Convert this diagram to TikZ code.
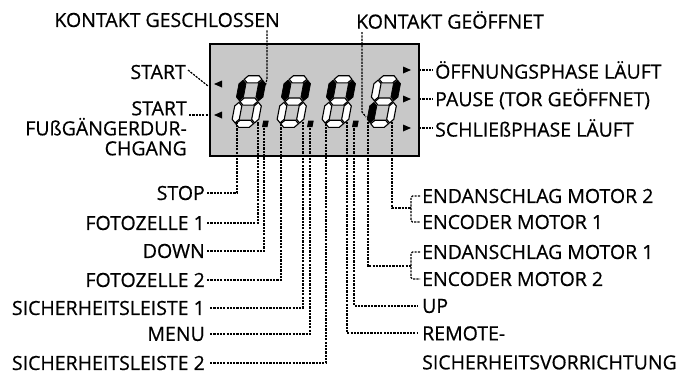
\documentclass[tikz,border=0pt]{standalone}
\usepackage{fontspec}
\setmainfont{Open Sans}[BoldFont={Open Sans},BoldFeatures={FakeBold=0.6}]
\definecolor{lcd}{RGB}{200,200,200}
\newcommand\lcddigit[9]{%
\begin{scope}[shift={(#1,#2)},xslant=0.19]
\path[#3] (4.15,-47.75) -- (7.7,-51.3) -- (18.3,-51.3) -- (21.85,-47.75) -- (18.3,-44.2) -- (7.7,-44.2) -- cycle;
\path[#4] (22.75,-26.4) -- (26.3,-29.95) -- (26.3,-43.3) -- (22.75,-46.85) -- (19.2,-43.3) -- (19.2,-29.95) -- cycle;
\path[#5] (22.75,-4.15) -- (26.3,-7.7) -- (26.3,-21.05) -- (22.75,-24.6) -- (19.2,-21.05) -- (19.2,-7.7) -- cycle;
\path[#6] (4.15,-3.25) -- (7.7,-6.8) -- (18.3,-6.8) -- (21.85,-3.25) -- (18.3,0.3) -- (7.7,0.3) -- cycle;
\path[#7] (3.25,-4.15) -- (6.8,-7.7) -- (6.8,-21.05) -- (3.25,-24.6) -- (-0.3,-21.05) -- (-0.3,-7.7) -- cycle;
\path[#8] (3.25,-26.4) -- (6.8,-29.95) -- (6.8,-43.3) -- (3.25,-46.85) -- (-0.3,-43.3) -- (-0.3,-29.95) -- cycle;
\path[#9] (4.15,-25.5) -- (7.7,-29.05) -- (18.3,-29.05) -- (21.85,-25.5) -- (18.3,-21.95) -- (7.7,-21.95) -- cycle;
\end{scope}}
\newcommand\lcddp[2]{%
\begin{scope}[shift={(#1,#2)},xslant=0.19]
\fill (31,0) rectangle (36.5,-6.5);
\end{scope}}
\begin{document}
\begin{tikzpicture}[x=1pt,y=-1pt,
  lbl/.style={font=\fontsize{19.5}{20}\selectfont\bfseries, inner sep=0pt},
  con/.style={line width=1.2pt, dash pattern=on 2.2pt off 1.1pt},
  segon/.style={fill=black, draw=black, line width=0.7pt},
  segoff/.style={fill=white, draw=black, line width=1.1pt},
  tri/.style={fill=black}]
\useasboundingbox (0,0) rectangle (689,376);
% display
\node[draw, line width=2pt, fill=lcd, minimum width=209pt, minimum height=112pt,
      inner sep=0pt, anchor=north west] (box) at (209,43) {};
\lcddigit{231}{127}{segoff}{segon}{segoff}{segoff}{segoff}{segon}{segoff}
\lcddigit{276}{127}{segoff}{segon}{segoff}{segoff}{segoff}{segon}{segoff}
\lcddigit{321}{127}{segoff}{segon}{segoff}{segoff}{segoff}{segon}{segoff}
\lcddigit{366}{127}{segoff}{segon}{segoff}{segoff}{segon}{segoff}{segoff}
\lcddp{231}{127}
\lcddp{276}{127}
\lcddp{321}{127}
% indicator arrows
\fill[tri] (222,80.5) -- (214,84) -- (222,87.5) -- cycle;
\fill[tri] (222,111.5) -- (214,115) -- (222,118.5) -- cycle;
\fill[tri] (403,66.5) -- (411,70) -- (403,73.5) -- cycle;
\fill[tri] (403,95.5) -- (411,99) -- (403,102.5) -- cycle;
\fill[tri] (403,124.5) -- (411,128) -- (403,131.5) -- cycle;
% top labels
\node[lbl, anchor=east] (kg) at (280,20) {KONTAKT GESCHLOSSEN};
\node[lbl, anchor=west] (kgo) at (356,20) {KONTAKT GEÖFFNET};
\coordinate (kgL) at (267,79);
\coordinate (kgA) at (265.5,85);
\coordinate (kgoL) at (362,112);
\coordinate (kgoA) at (366,117);
\draw[con] ([yshift=-3pt]kg.south -| kgL) -- (kgL) -- (kgA);
\draw[con] ([yshift=-3pt]kgo.south -| kgoL) -- (kgoL) -- (kgoA);
% left top labels
\node[lbl, anchor=east] (st1) at (186,72) {START};
\node[lbl, anchor=north east, align=right] (st2) at (187,101) {START\\FUßGÄNGERDUR-\\CHGANG};
\coordinate (la1) at (208,86);
\coordinate (la2) at (208,115);
\draw[con] ([xshift=2pt,yshift=2pt]st1.east) -- (la1);
\draw[con] (189,115) coordinate (la2s) -- (la2);
% right top labels
\node[lbl, anchor=west] (oe) at (435,70) {ÖFFNUNGSPHASE LÄUFT};
\node[lbl, anchor=west] (pa) at (435,99) {PAUSE (TOR GEÖFFNET)};
\node[lbl, anchor=west] (sc) at (435,128) {SCHLIEßPHASE LÄUFT};
\coordinate (ra1) at (419,70);
\coordinate (ra2) at (419,99);
\coordinate (ra3) at (419,128);
\draw[con] (ra1) -- ([xshift=-2pt]oe.west);
\draw[con] (ra2) -- ([xshift=-2pt]pa.west);
\draw[con] (ra3) -- ([xshift=-2pt]sc.west);
% segment anchors
\coordinate (s1) at (237,122);
\coordinate (s2) at (258,122);
\coordinate (s3) at (264,125);
\coordinate (s4) at (281,122);
\coordinate (s5) at (303,122);
\coordinate (s6) at (310,125);
\coordinate (s7) at (326,122);
\coordinate (s8) at (347,122);
\coordinate (s9) at (354,125);
\coordinate (s10) at (368,122);
\coordinate (s11) at (392,122);
% left labels
\node[lbl, anchor=east] (l1) at (205,193) {STOP};
\node[lbl, anchor=east] (l2) at (205,223) {FOTOZELLE 1};
\node[lbl, anchor=east] (l3) at (205,251) {DOWN};
\node[lbl, anchor=east] (l4) at (205,280) {FOTOZELLE 2};
\node[lbl, anchor=east] (l5) at (205,308) {SICHERHEITSLEISTE 1};
\node[lbl, anchor=east] (l6) at (205,334) {MENU};
\node[lbl, anchor=east] (l7) at (205,363) {SICHERHEITSLEISTE 2};
\draw[con] ([xshift=2pt]l1.east) -| (s1);
\draw[con] ([xshift=2pt]l2.east) -| (s2);
\draw[con] ([xshift=2pt]l3.east) -| (s3);
\draw[con] ([xshift=2pt]l4.east) -| (s4);
\draw[con] ([xshift=5pt]l5.east) -| (s5);
\draw[con] ([xshift=5pt]l6.east) -| (s6);
\draw[con] ([xshift=5pt]l7.east) -| (s7);
% right labels
\node[lbl, anchor=west] (r1) at (422,196) {ENDANSCHLAG MOTOR 2};
\node[lbl, anchor=west] (r2) at (422,222) {ENCODER MOTOR 1};
\node[lbl, anchor=west] (r3) at (422,252) {ENDANSCHLAG MOTOR 1};
\node[lbl, anchor=west] (r4) at (422,279) {ENCODER MOTOR 2};
\node[lbl, anchor=west] (r5) at (422,306) {UP};
\node[lbl, anchor=north west, align=left, font=\fontsize{19.5}{29}\selectfont\bfseries] (r6) at (422,326) {REMOTE-\\SICHERHEITSVORRICHTUNG};
\coordinate (b1) at (411,208);
\coordinate (b2) at (411,266);
\draw[con] (s11) |- (b1);
\draw[con, rounded corners=1.5pt] ([xshift=-2pt]r1.west) -| (b1) |- ([xshift=-2pt]r2.west);
\draw[con] (s10) |- (b2);
\draw[con, rounded corners=1.5pt] ([xshift=-2pt]r3.west) -| (b2) |- ([xshift=-2pt]r4.west);
\draw[con] (s9) |- ([xshift=-4pt]r5.west);
\draw[con] (s8) |- ([xshift=-4pt]r6.north west |- 0,333);
\end{tikzpicture}
\end{document}
